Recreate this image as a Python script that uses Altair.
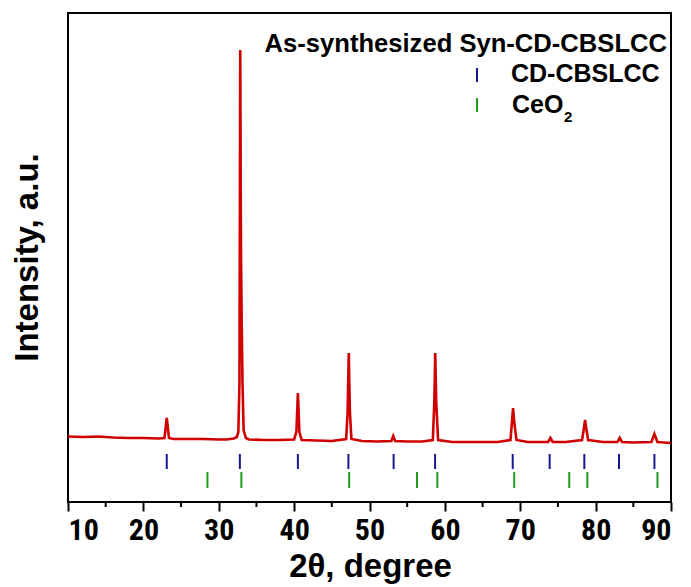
import altair as alt
import pandas as pd

# XRD pattern (2theta in degrees, intensity in a.u.)
two_theta = [10, 12, 14, 16, 18, 20, 22, 22.8, 23.1, 23.4, 24, 26, 28, 30, 31, 32,
             32.4, 32.6, 32.75, 32.85, 32.95, 33.05, 33.15, 33.3, 33.6, 34, 36, 38,
             40, 40.3, 40.5, 40.7, 41, 43, 45, 46.9, 47.1, 47.25, 47.4, 47.6, 49, 51,
             52.9, 53.15, 53.4, 55, 57, 58.4, 58.6, 58.72, 58.85, 59.1, 61, 63, 65,
             67, 68.7, 68.9, 69.05, 69.2, 69.5, 71, 73.7, 74.0, 74.3, 76, 78.2,
             78.45, 78.6, 78.75, 79.0, 81, 82.9, 83.2, 83.5, 85, 87.4, 87.8, 88.2, 90]
intensity = [65.5, 65, 65.5, 64.5, 64, 64, 63.5, 64, 84, 64, 63, 63, 63, 62.5, 62.5, 63.5,
             65, 70, 120, 452, 250, 177, 120, 72, 64, 62.5, 62, 62,
             62.5, 70, 109, 70, 62, 61.5, 61, 63, 90, 149, 90, 63, 61, 60.5,
             61, 66, 61, 60.5, 60.5, 62, 100, 149, 100, 62, 60, 60, 60,
             60, 62, 80, 94, 80, 62, 60, 60, 64, 60, 60, 62,
             74, 82, 74, 62, 60, 60, 64, 60, 59.5, 60, 68, 60, 59]

# Reference peak positions
cd_cbslcc_pos = [23.1, 32.8, 40.5, 47.2, 53.2, 58.7, 69.0, 73.9, 78.5, 83.1, 87.8]
ceo2_pos = [28.5, 33.0, 47.3, 56.3, 59.0, 69.2, 76.5, 78.9, 88.2]

major_ticks = [10, 20, 30, 40, 50, 60, 70, 80, 90]
minor_ticks = [15, 25, 35, 45, 55, 65, 75, 85]

W, H = 603, 489
FONT = "Liberation Sans"
NARROW = "Liberation Sans Narrow, Roboto Condensed, Liberation Sans"
RED = "#d00000"
BLUE = "#17178f"
GREEN = "#1f9a1f"

xscale = alt.Scale(domain=[10, 90], nice=False, zero=False)
yscale = alt.Scale(domain=[0, 489], nice=False, zero=False)

curve_df = pd.DataFrame({"t": two_theta, "i": intensity})

curve = alt.Chart(curve_df).mark_line(color=RED, strokeWidth=2.6).encode(
    x=alt.X("t:Q", scale=xscale,
            axis=alt.Axis(values=major_ticks, title="2θ, degree", format="d",
                          labelFont=NARROW, labelFontSize=30, labelFontWeight="bold",
                          labelColor="black", labelPadding=4,
                          tickSize=9, tickWidth=2, tickColor="black",
                          domain=False, grid=False,
                          titleFont=FONT, titleFontSize=33, titleFontWeight="bold",
                          titleColor="black", titleX=302, titleY=74,
                          titleBaseline="alphabetic")),
    y=alt.Y("i:Q", scale=yscale,
            axis=alt.Axis(labels=False, ticks=False, domain=False, grid=False,
                          title="Intensity, a.u.", titleFont=FONT, titleFontSize=33,
                          titleFontWeight="bold", titleColor="black",
                          titleX=-31, titleY=244, titleAngle=-90,
                          titleBaseline="alphabetic", titleAlign="center")),
)

minor = alt.Chart(pd.DataFrame({"t": minor_ticks})).mark_rule(
    color="black", strokeWidth=2).encode(
    x=alt.X("t:Q", scale=xscale), y=alt.value(H), y2=alt.value(H + 5))

cd_rules = alt.Chart(pd.DataFrame({"t": cd_cbslcc_pos})).mark_rule(
    color=BLUE, strokeWidth=2).encode(
    x=alt.X("t:Q", scale=xscale), y=alt.value(441), y2=alt.value(456))

ceo_rules = alt.Chart(pd.DataFrame({"t": ceo2_pos})).mark_rule(
    color=GREEN, strokeWidth=2).encode(
    x=alt.X("t:Q", scale=xscale), y=alt.value(459), y2=alt.value(475))

one = pd.DataFrame({"k": [0]})

title_txt = alt.Chart(one).mark_text(
    text="As-synthesized Syn-CD-CBSLCC", font=FONT, fontSize=25.6, fontWeight="bold",
    align="right", baseline="alphabetic", color="black").encode(
    x=alt.value(599), y=alt.value(39))

leg_blue = alt.Chart(one).mark_rule(color=BLUE, strokeWidth=2).encode(
    x=alt.value(409), y=alt.value(55), y2=alt.value(69))
leg_blue_txt = alt.Chart(one).mark_text(
    text="CD-CBSLCC", font=FONT, fontSize=25, fontWeight="bold",
    align="left", baseline="alphabetic", color="black").encode(
    x=alt.value(443), y=alt.value(69))

leg_green = alt.Chart(one).mark_rule(color=GREEN, strokeWidth=2).encode(
    x=alt.value(409), y=alt.value(85), y2=alt.value(99))
leg_green_txt = alt.Chart(one).mark_text(
    text="CeO", font=FONT, fontSize=25, fontWeight="bold",
    align="left", baseline="alphabetic", color="black").encode(
    x=alt.value(444), y=alt.value(100))
leg_green_sub = alt.Chart(one).mark_text(
    text="2", font=FONT, fontSize=15, fontWeight="bold",
    align="left", baseline="alphabetic", color="black").encode(
    x=alt.value(496), y=alt.value(109))

chart = alt.layer(
    curve, minor, cd_rules, ceo_rules, title_txt,
    leg_blue, leg_blue_txt, leg_green, leg_green_txt, leg_green_sub
).properties(
    width=W, height=H,
    autosize=alt.AutoSizeParams(type="none"),
    padding={"left": 60, "top": 5, "right": 12, "bottom": 85},
).configure_view(stroke="black", strokeWidth=2)

chart.save("out.html", embed_options={"renderer": "svg", "actions": False})
